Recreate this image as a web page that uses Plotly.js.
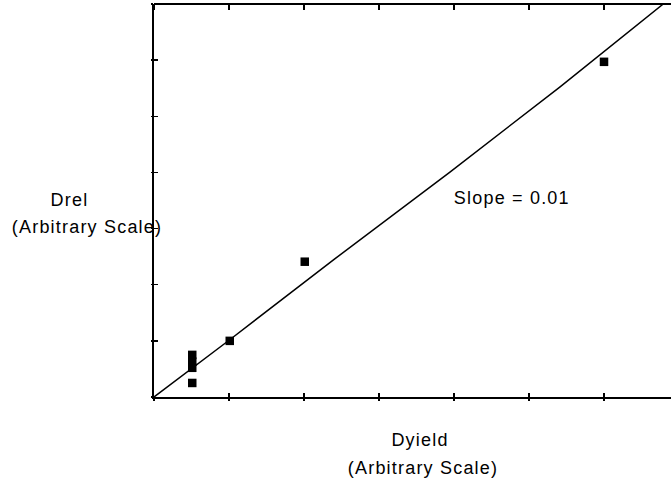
<!DOCTYPE html>
<html>
<head>
<meta charset="utf-8">
<script src="https://cdn.plot.ly/plotly-3.0.1.min.js"></script>
<style>
  html, body { margin: 0; padding: 0; background: #fff; }
  #chart { width: 671px; height: 480px; }
  #chart svg text { letter-spacing: 1.2px; }
</style>
</head>
<body>
<div id="chart"></div>
<script>
// Measured points (Dyield vs Drel, arbitrary units)
const dyield = [0.51, 0.51, 0.51, 0.51, 1.01, 2.01, 6.0];
const drel   = [0.25, 0.52, 0.63, 0.75, 1.0, 2.41, 5.97];

// Fitted line (as drawn)
const fitX = [0, 1.01, 2.41, 3.17, 3.95, 5.41, 6.79];
const fitY = [0, 1.02, 2.46, 3.22, 4.01, 5.52, 7.0];

const slopeLabel = 'Slope = 0.01';
const xTitle = ['Dyield', '(Arbitrary Scale)'];
const yTitle = ['Drel', '(Arbitrary Scale)'];

const font = {family: '"Liberation Sans", Arial, sans-serif', size: 18, color: '#000'};

const xRange = [0, 6.893];
const yRange = [0, 7];

const traces = [
  {
    x: fitX, y: fitY, mode: 'lines', type: 'scatter',
    line: {color: '#000', width: 1.5}, hoverinfo: 'skip', cliponaxis: true
  },
  {
    x: dyield, y: drel, mode: 'markers', type: 'scatter',
    marker: {symbol: 'square', size: 8.5, color: '#000'}, cliponaxis: false
  },
  // empty traces so the companion tick axes exist as subplots
  {x: [], y: [], xaxis: 'x2', yaxis: 'y2', type: 'scatter', mode: 'markers', hoverinfo: 'skip'},
  {x: [], y: [], xaxis: 'x3', yaxis: 'y', type: 'scatter', mode: 'markers', hoverinfo: 'skip'}
];

const tickCommon = {
  tick0: 0, dtick: 1, showgrid: false, zeroline: false, showticklabels: false,
  tickwidth: 1.5, tickcolor: '#000'
};

const layout = {
  width: 671, height: 480,
  margin: {l: 154, r: 0, t: 4, b: 83},
  paper_bgcolor: '#fff', plot_bgcolor: '#fff',
  showlegend: false,
  font: font,
  xaxis: Object.assign({}, tickCommon, {
    range: xRange,
    showline: true, linecolor: '#000', linewidth: 2, mirror: false,
    ticks: 'inside', ticklen: 4
  }),
  yaxis: Object.assign({}, tickCommon, {
    range: yRange,
    showline: true, linecolor: '#000', linewidth: 2, mirror: false,
    ticks: 'inside', ticklen: 4
  }),
  // companion axes that give the small outward part of the crossing ticks
  xaxis2: Object.assign({}, tickCommon, {
    range: xRange, overlaying: 'x', anchor: 'y2', side: 'bottom',
    showline: false, ticks: 'outside', ticklen: 3
  }),
  yaxis2: Object.assign({}, tickCommon, {
    range: yRange, overlaying: 'y', anchor: 'x2', side: 'left',
    showline: false, ticks: 'outside', ticklen: 2
  }),
  // top frame line: a bottom-side axis placed at the top, so its outside ticks point down
  xaxis3: Object.assign({}, tickCommon, {
    range: xRange, overlaying: 'x', anchor: 'free', position: 1, side: 'bottom',
    showline: true, linecolor: '#000', linewidth: 2, ticks: 'outside', ticklen: 5
  }),
  annotations: [
    {text: slopeLabel, xref: 'paper', yref: 'paper', x: 0.6925, y: 0.506, xanchor: 'center', yanchor: 'middle', showarrow: false, font: font},
    {text: xTitle[0], xref: 'paper', yref: 'paper', x: 0.5145, y: -0.109, xanchor: 'center', yanchor: 'middle', showarrow: false, font: font},
    {text: xTitle[1], xref: 'paper', yref: 'paper', x: 0.520, y: -0.181, xanchor: 'center', yanchor: 'middle', showarrow: false, font: font},
    {text: yTitle[0], xref: 'paper', yref: 'paper', x: -0.1625, y: 0.501, xanchor: 'center', yanchor: 'middle', showarrow: false, font: font},
    {text: yTitle[1], xref: 'paper', yref: 'paper', x: -0.130, y: 0.4326, xanchor: 'center', yanchor: 'middle', showarrow: false, font: font}
  ]
};

Plotly.newPlot('chart', traces, layout, {staticPlot: true, displayModeBar: false});
</script>
</body>
</html>
